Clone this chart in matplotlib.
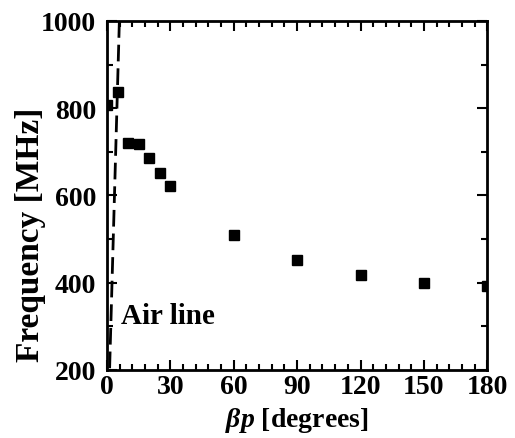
import matplotlib
matplotlib.use('Agg')

import matplotlib.pyplot as plt
from matplotlib.ticker import MultipleLocator

plt.rcParams['font.family'] = 'Liberation Serif'
plt.rcParams['font.weight'] = 'bold'
plt.rcParams['mathtext.fontset'] = 'custom'
plt.rcParams['mathtext.it'] = 'Liberation Serif:italic:bold'
plt.rcParams['mathtext.rm'] = 'Liberation Serif:bold'

# measured dispersion (phase shift per period vs frequency)
beta_p = [0, 5, 10, 15, 20, 25, 30, 60, 90, 120, 150, 180]
freq = [807, 836, 721, 719, 686, 652, 622, 509, 451, 417, 399, 393]

# air line
air_x = [0, 5.8]
air_y = [0, 1000]

fig = plt.figure(figsize=(5.15, 4.39), dpi=100)
ax = fig.add_axes([0.208, 0.155, 0.738, 0.795])

ax.plot(air_x, air_y, 'k--', lw=2, dashes=(6, 2.5))
ax.plot(beta_p, freq, 's', color='k', ms=7, clip_on=True)
ax.text(6.5, 325, 'Air line', fontsize=21, fontweight='bold', va='center', ha='left')

ax.set_xlim(0, 180)
ax.set_ylim(200, 1000)
ax.xaxis.set_major_locator(MultipleLocator(30))
ax.xaxis.set_minor_locator(MultipleLocator(6))
ax.yaxis.set_major_locator(MultipleLocator(200))
ax.yaxis.set_minor_locator(MultipleLocator(100))
ax.tick_params(which='both', direction='in', top=True, right=True, width=1.5,
               labelsize=20)
ax.tick_params(axis='x', pad=3)
ax.tick_params(axis='y', pad=8)
ax.tick_params(which='major', length=7)
ax.tick_params(which='minor', length=4)
for s in ax.spines.values():
    s.set_linewidth(2)

ax.set_xlabel(r'$\beta p$ [degrees]', fontsize=20, fontweight='bold', labelpad=4)
ax.set_ylabel('Frequency [MHz]', fontsize=24, fontweight='bold')
ax.yaxis.set_label_coords(-0.162, 0.39)

plt.savefig('out.png', dpi=100)
plt.close()
